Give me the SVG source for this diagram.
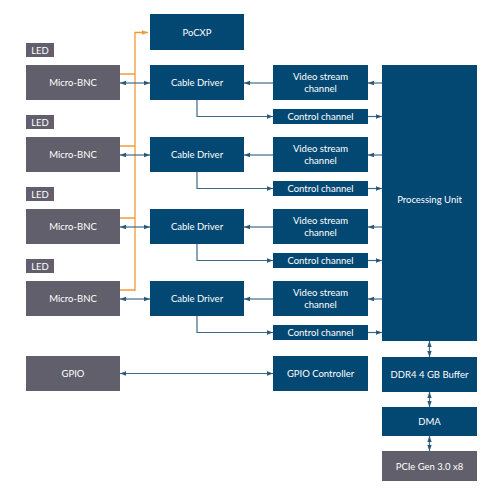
<svg xmlns="http://www.w3.org/2000/svg" width="500" height="494" viewBox="0 0 500 494">
<defs>
<marker id="ah" viewBox="0 0 6 6" refX="6" refY="3" markerWidth="6" markerHeight="6" orient="auto-start-reverse" markerUnits="userSpaceOnUse">
<path d="M0,0.8 L6,3 L0,5.2 Z" fill="#2f5875"/>
</marker>
<marker id="aho" viewBox="0 0 6 6" refX="6" refY="3" markerWidth="6" markerHeight="6" orient="auto" markerUnits="userSpaceOnUse">
<path d="M0,0.8 L6,3 L0,5.2 Z" fill="#f29a3a"/>
</marker>
</defs>
<style>
.b{fill:#034873}
.g{fill:#605f6b}
.t{fill:#ffffff;font-family:"Lato","Open Sans",sans-serif;font-size:9.5px;text-anchor:middle;dominant-baseline:central}
.c{fill:none;stroke:#3c6a8a;stroke-width:1.2}
.o{fill:none;stroke:#f29a3a;stroke-width:1.3}
</style>
<rect width="500" height="494" fill="#ffffff"/>
<g id="connectors">
<path class="o" d="M120,74 H135 M120,146 H135 M120,218 H135 M120,290 H135 M135,291 V32.5 H148" marker-end="url(#aho)"/>
<path class="c" d="M120,83 H150" marker-start="url(#ah)" marker-end="url(#ah)"/>
<path class="c" d="M120,155 H150" marker-start="url(#ah)" marker-end="url(#ah)"/>
<path class="c" d="M120,227 H150" marker-start="url(#ah)" marker-end="url(#ah)"/>
<path class="c" d="M120,299 H150" marker-start="url(#ah)" marker-end="url(#ah)"/>
<path class="c" d="M273,83 H244" marker-end="url(#ah)"/>
<path class="c" d="M273,155 H244" marker-end="url(#ah)"/>
<path class="c" d="M273,227 H244" marker-end="url(#ah)"/>
<path class="c" d="M273,299 H244" marker-end="url(#ah)"/>
<path class="c" d="M382,83 H368" marker-end="url(#ah)"/>
<path class="c" d="M382,155 H368" marker-end="url(#ah)"/>
<path class="c" d="M382,227 H368" marker-end="url(#ah)"/>
<path class="c" d="M382,299 H368" marker-end="url(#ah)"/>
<path class="c" d="M197,100 V116.5 H273" marker-end="url(#ah)"/>
<path class="c" d="M197,172 V188.5 H273" marker-end="url(#ah)"/>
<path class="c" d="M197,244 V260.5 H273" marker-end="url(#ah)"/>
<path class="c" d="M197,316 V332.5 H273" marker-end="url(#ah)"/>
<path class="c" d="M368,116.5 H382" marker-end="url(#ah)"/>
<path class="c" d="M368,188.5 H382" marker-end="url(#ah)"/>
<path class="c" d="M368,260.5 H382" marker-end="url(#ah)"/>
<path class="c" d="M368,332.5 H382" marker-end="url(#ah)"/>
<path class="c" d="M120,373.5 H273" marker-start="url(#ah)" marker-end="url(#ah)"/>
<path class="c" d="M429.5,341 V357" marker-start="url(#ah)" marker-end="url(#ah)"/>
<path class="c" d="M429.5,392 V407" marker-start="url(#ah)" marker-end="url(#ah)"/>
<path class="c" d="M429.5,436 V451" marker-start="url(#ah)" marker-end="url(#ah)"/>
</g>
<g id="pocxp"><rect class="b" x="150" y="14" width="94" height="36"/><text class="t" x="197" y="32">PoCXP</text></g>
<g id="led1"><rect class="g" x="26" y="43" width="28" height="14"/><text class="t" x="40" y="50">LED</text></g>
<g id="led2"><rect class="g" x="26" y="115" width="28" height="14"/><text class="t" x="40" y="122">LED</text></g>
<g id="led3"><rect class="g" x="26" y="187" width="28" height="14"/><text class="t" x="40" y="194">LED</text></g>
<g id="led4"><rect class="g" x="26" y="259" width="28" height="14"/><text class="t" x="40" y="266">LED</text></g>
<g id="bnc1"><rect class="g" x="26" y="65" width="94" height="35"/><text class="t" x="73" y="82.5">Micro-BNC</text></g>
<g id="bnc2"><rect class="g" x="26" y="137" width="94" height="35"/><text class="t" x="73" y="154.5">Micro-BNC</text></g>
<g id="bnc3"><rect class="g" x="26" y="209" width="94" height="35"/><text class="t" x="73" y="226.5">Micro-BNC</text></g>
<g id="bnc4"><rect class="g" x="26" y="281" width="94" height="35"/><text class="t" x="73" y="298.5">Micro-BNC</text></g>
<g id="cd1"><rect class="b" x="150" y="65" width="94" height="35"/><text class="t" x="197" y="82.5">Cable Driver</text></g>
<g id="cd2"><rect class="b" x="150" y="137" width="94" height="35"/><text class="t" x="197" y="154.5">Cable Driver</text></g>
<g id="cd3"><rect class="b" x="150" y="209" width="94" height="35"/><text class="t" x="197" y="226.5">Cable Driver</text></g>
<g id="cd4"><rect class="b" x="150" y="281" width="94" height="35"/><text class="t" x="197" y="298.5">Cable Driver</text></g>
<g id="vs1"><rect class="b" x="273" y="65" width="95" height="35"/><text class="t" x="320.5" y="76.5">Video stream</text><text class="t" x="320.5" y="88.5">channel</text></g>
<g id="vs2"><rect class="b" x="273" y="137" width="95" height="35"/><text class="t" x="320.5" y="148.5">Video stream</text><text class="t" x="320.5" y="160.5">channel</text></g>
<g id="vs3"><rect class="b" x="273" y="209" width="95" height="35"/><text class="t" x="320.5" y="220.5">Video stream</text><text class="t" x="320.5" y="232.5">channel</text></g>
<g id="vs4"><rect class="b" x="273" y="281" width="95" height="35"/><text class="t" x="320.5" y="292.5">Video stream</text><text class="t" x="320.5" y="304.5">channel</text></g>
<g id="cc1"><rect class="b" x="273" y="109" width="95" height="15"/><text class="t" x="320.5" y="116.5">Control channel</text></g>
<g id="cc2"><rect class="b" x="273" y="181" width="95" height="15"/><text class="t" x="320.5" y="188.5">Control channel</text></g>
<g id="cc3"><rect class="b" x="273" y="253" width="95" height="15"/><text class="t" x="320.5" y="260.5">Control channel</text></g>
<g id="cc4"><rect class="b" x="273" y="325" width="95" height="15"/><text class="t" x="320.5" y="332.5">Control channel</text></g>
<g id="pu"><rect class="b" x="382" y="65" width="95" height="276"/><text class="t" x="429.5" y="199">Processing Unit</text></g>
<g id="gpio"><rect class="g" x="26" y="356" width="94" height="35"/><text class="t" x="73" y="373.5">GPIO</text></g>
<g id="gpioc"><rect class="b" x="273" y="356" width="95" height="35"/><text class="t" x="320.5" y="373.5">GPIO Controller</text></g>
<g id="ddr4"><rect class="b" x="382" y="357" width="95" height="35"/><text class="t" x="429.5" y="374.5">DDR4 4 GB Buffer</text></g>
<g id="dma"><rect class="b" x="382" y="407" width="95" height="29"/><text class="t" x="429.5" y="421.5">DMA</text></g>
<g id="pcie"><rect class="g" x="382" y="451" width="95" height="30"/><text class="t" x="429.5" y="466">PCIe Gen 3.0 x8</text></g>
</svg>
